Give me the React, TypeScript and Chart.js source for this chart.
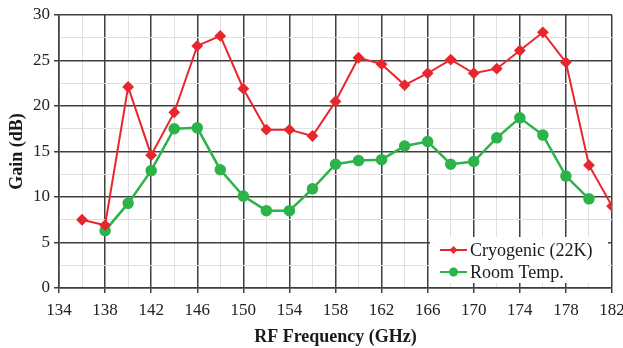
import React, { useEffect, useRef } from 'react';
import { Chart, registerables } from 'chart.js';

Chart.register(...registerables);

const cryoFreq = [136, 138, 140, 142, 144, 146, 148, 150, 152, 154, 156, 158, 160, 162, 164, 166, 168, 170, 172, 174, 176, 178, 180, 182];
const cryoGain = [7.5, 6.9, 22.1, 14.6, 19.3, 26.6, 27.7, 21.9, 17.4, 17.4, 16.7, 20.5, 25.3, 24.6, 22.3, 23.6, 25.1, 23.6, 24.1, 26.1, 28.1, 24.8, 13.5, 9.0];
const roomFreq = [138, 140, 142, 144, 146, 148, 150, 152, 154, 156, 158, 160, 162, 164, 166, 168, 170, 172, 174, 176, 178, 180];
const roomGain = [6.3, 9.3, 12.9, 17.5, 17.6, 13.0, 10.1, 8.5, 8.5, 10.9, 13.6, 14.0, 14.1, 15.6, 16.1, 13.6, 13.9, 16.5, 18.7, 16.8, 12.3, 9.8];
const xTickLabels = [134, 138, 142, 146, 150, 154, 158, 162, 166, 170, 174, 178, 182];
const yTickLabels = [0, 5, 10, 15, 20, 25, 30];
const seriesNames = ['Cryogenic (22K)', 'Room Temp.'];

const RED = '#e8262d';
const GREEN = '#2cb34a';
const MAJOR = '#3f3f3f';
const MINOR = '#e0e0e0';
const FONT = "'Liberation Serif', 'Times New Roman', serif";

const legendPlugin = {
  id: 'insideLegend',
  afterDraw(chart: any) {
    const { ctx, chartArea } = chart;
    const right = chartArea.right - 4;
    const left = right - 178;
    const bottom = chartArea.bottom - 5;
    const top = bottom - 46;
    ctx.save();
    ctx.fillStyle = '#ffffff';
    ctx.fillRect(left, top, right - left, bottom - top);
    const items = [
      { label: seriesNames[0], color: RED, style: 'rectRot', r: 4 },
      { label: seriesNames[1], color: GREEN, style: 'circle', r: 4.5 },
    ];
    items.forEach((it, i) => {
      const y = top + 13 + i * 22;
      ctx.strokeStyle = it.color;
      ctx.lineWidth = 2;
      ctx.beginPath();
      ctx.moveTo(left + 10, y);
      ctx.lineTo(left + 37, y);
      ctx.stroke();
      ctx.fillStyle = it.color;
      ctx.beginPath();
      if (it.style === 'circle') {
        ctx.arc(left + 23.5, y, it.r, 0, Math.PI * 2);
      } else {
        ctx.moveTo(left + 23.5, y - it.r);
        ctx.lineTo(left + 23.5 + it.r, y);
        ctx.lineTo(left + 23.5, y + it.r);
        ctx.lineTo(left + 23.5 - it.r, y);
        ctx.closePath();
      }
      ctx.fill();
      ctx.fillStyle = '#1a1a1a';
      ctx.font = `18px ${FONT}`;
      ctx.textAlign = 'left';
      ctx.textBaseline = 'middle';
      ctx.fillText(it.label, left + 40, y + 1);
    });
    ctx.restore();
  },
};

export default function App() {
  const ref = useRef<HTMLCanvasElement | null>(null);

  useEffect(() => {
    document.body.style.margin = '0';
    const canvas = ref.current;
    if (!canvas) return;
    const isMajorX = (v: number) => (v - 134) % 4 === 0;
    const isMajorY = (v: number) => Math.abs(v % 5) < 1e-6;
    const chart = new Chart(canvas, {
      type: 'line',
      data: {
        datasets: [
          {
            label: seriesNames[0],
            data: cryoFreq.map((f, i) => ({ x: f, y: cryoGain[i] })),
            borderColor: RED,
            backgroundColor: RED,
            borderWidth: 2,
            pointStyle: 'rectRot',
            pointRadius: 4.5,
            tension: 0,
          },
          {
            label: seriesNames[1],
            data: roomFreq.map((f, i) => ({ x: f, y: roomGain[i] })),
            borderColor: GREEN,
            backgroundColor: GREEN,
            borderWidth: 2.5,
            pointStyle: 'circle',
            pointRadius: 4.5,
            tension: 0,
          },
        ],
      },
      options: {
        responsive: false,
        animation: false,
        layout: { padding: { top: 15, right: 11, left: 0, bottom: 0 } },
        plugins: { legend: { display: false }, tooltip: { enabled: false } },
        scales: {
          x: {
            type: 'linear',
            min: 134,
            max: 182,
            afterFit: (s: any) => { s.height = 60; s.paddingLeft = 0; s.paddingRight = 0; },
            ticks: {
              stepSize: 2,
              autoSkip: false,
              maxRotation: 0,
              padding: 7,
              color: '#222',
              font: { family: FONT, size: 17 },
              callback: (v: any) => (xTickLabels.includes(Number(v)) ? String(v) : ''),
            },
            grid: {
              color: (c: any) => (isMajorX(c.tick.value) ? MAJOR : MINOR),
              lineWidth: (c: any) => (isMajorX(c.tick.value) ? 1.5 : 1),
              tickColor: (c: any) => (isMajorX(c.tick.value) ? MAJOR : 'rgba(0,0,0,0)'),
              tickLength: 5,
            },
            border: { color: MAJOR, width: 1.5 },
            title: {
              display: true,
              text: 'RF Frequency (GHz)',
              color: '#1a1a1a',
              font: { family: FONT, size: 18, weight: 'bold' },
              padding: { top: 0, bottom: 0 },
            },
          },
          y: {
            min: 0,
            max: 30,
            afterFit: (s: any) => { s.width = 59; s.paddingTop = 0; s.paddingBottom = 0; },
            ticks: {
              stepSize: 2.5,
              autoSkip: false,
              padding: 4,
              color: '#222',
              font: { family: FONT, size: 17 },
              callback: (v: any) => (yTickLabels.includes(Number(v)) ? String(v) : ''),
            },
            grid: {
              color: (c: any) => (isMajorY(c.tick.value) ? MAJOR : MINOR),
              lineWidth: (c: any) => (isMajorY(c.tick.value) ? 1.5 : 1),
              tickColor: (c: any) => (isMajorY(c.tick.value) ? MAJOR : 'rgba(0,0,0,0)'),
              tickLength: 5,
            },
            border: { color: MAJOR, width: 1.5 },
            title: {
              display: true,
              text: 'Gain (dB)',
              color: '#1a1a1a',
              font: { family: FONT, size: 18, weight: 'bold' },
              padding: { top: 7, bottom: 0 },
            },
          },
        },
      },
      plugins: [legendPlugin],
    } as any);
    return () => chart.destroy();
  }, []);

  return (
    <div style={{ width: 623, height: 348, background: '#fff' }}>
      <canvas ref={ref} width={623} height={348} style={{ display: 'block' }} />
    </div>
  );
}
